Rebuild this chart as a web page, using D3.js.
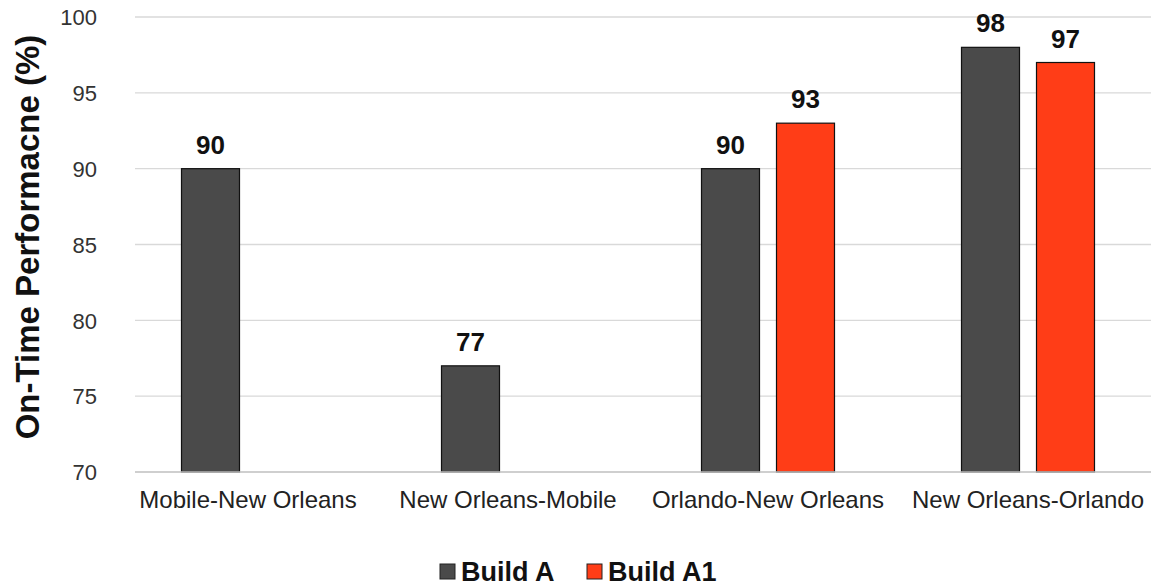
<!DOCTYPE html>
<html><head><meta charset="utf-8">
<script src="https://d3js.org/d3.v7.min.js"></script>
<style>body{margin:0;background:#fff}svg{display:block;font-family:"Liberation Sans",Arial,sans-serif}</style>
</head><body><svg id="c" width="1151" height="588"></svg>
<script>
const categories = ["Mobile-New Orleans","New Orleans-Mobile","Orlando-New Orleans","New Orleans-Orlando"];
const seriesNames = ["Build A","Build A1"];
const buildA = [90,77,90,98];
const buildA1 = [null,null,93,97];
const yTicks = [70,75,80,85,90,95,100];
const colors = ["#4a4a4a","#ff3d17"];

const svg = d3.select("#c");
const x = d3.scaleBand().domain(categories).range([118,1158]).paddingInner(0).paddingOuter(0);
const y = d3.scaleLinear().domain([70,100]).range([472,17]);
const xs = d3.scaleBand().domain(seriesNames).range([0,x.bandwidth()]).paddingInner(0.2267).paddingOuter(0.8467);

// gridlines
svg.append("g").selectAll("line").data(yTicks.filter(d=>d>70)).join("line")
  .attr("x1",135).attr("x2",1151).attr("y1",d=>y(d)).attr("y2",d=>y(d))
  .attr("stroke","#d9d9d9").attr("stroke-width",1.3);

// y axis labels
const yAxis = d3.axisLeft(y).tickValues(yTicks).tickSize(0).tickPadding(0);
const ga = svg.append("g").attr("transform","translate(97,0)").call(yAxis);
ga.select(".domain").remove();
ga.selectAll("text").attr("font-size",22).attr("fill","#333").attr("font-family","Liberation Sans, Arial, sans-serif").attr("dy","0.35em");

// bars
const data = [];
categories.forEach((c,i)=>{
  [buildA[i],buildA1[i]].forEach((v,j)=>{ if(v!=null) data.push({c,s:seriesNames[j],v,j}); });
});
const bars = svg.append("g");
bars.selectAll("rect").data(data).join("rect")
  .attr("x",d=>x(d.c)+xs(d.s)).attr("width",xs.bandwidth())
  .attr("y",d=>y(d.v)).attr("height",d=>y(70)-y(d.v))
  .attr("fill",d=>colors[d.j]).attr("stroke","#111").attr("stroke-width",1.2);
bars.selectAll("text").data(data).join("text")
  .attr("x",d=>x(d.c)+xs(d.s)+xs.bandwidth()/2).attr("y",d=>y(d.v)-15)
  .attr("text-anchor","middle").attr("font-weight","bold").attr("font-size",26).attr("fill","#111")
  .text(d=>d.v);

// baseline
svg.append("line").attr("x1",135).attr("x2",1151).attr("y1",y(70)).attr("y2",y(70)).attr("stroke","#bfbfbf").attr("stroke-width",1.5);

// x axis labels
const xAxis = d3.axisBottom(x).tickSize(0).tickPadding(0);
const gx = svg.append("g").attr("transform","translate(0,491)").call(xAxis);
gx.select(".domain").remove();
gx.selectAll("text").attr("font-size",24).attr("fill","#222").attr("font-family","Liberation Sans, Arial, sans-serif").attr("dy","0.71em");

// y title
svg.append("text").attr("transform","translate(39,237) rotate(-90)").attr("text-anchor","middle")
  .attr("font-weight","bold").attr("font-size",33).attr("fill","#111").text("On-Time Performacne (%)");

// legend
const lg = svg.append("g");
const leg = [{n:seriesNames[0],c:colors[0],x:440},{n:seriesNames[1],c:colors[1],x:587}];
leg.forEach(l=>{
  lg.append("rect").attr("x",l.x).attr("y",564).attr("width",15).attr("height",15).attr("fill",l.c).attr("stroke","#222").attr("stroke-width",1);
  lg.append("text").attr("x",l.x+21).attr("y",581).attr("font-weight","bold").attr("font-size",27).attr("fill","#111").text(l.n);
});
</script></body></html>
